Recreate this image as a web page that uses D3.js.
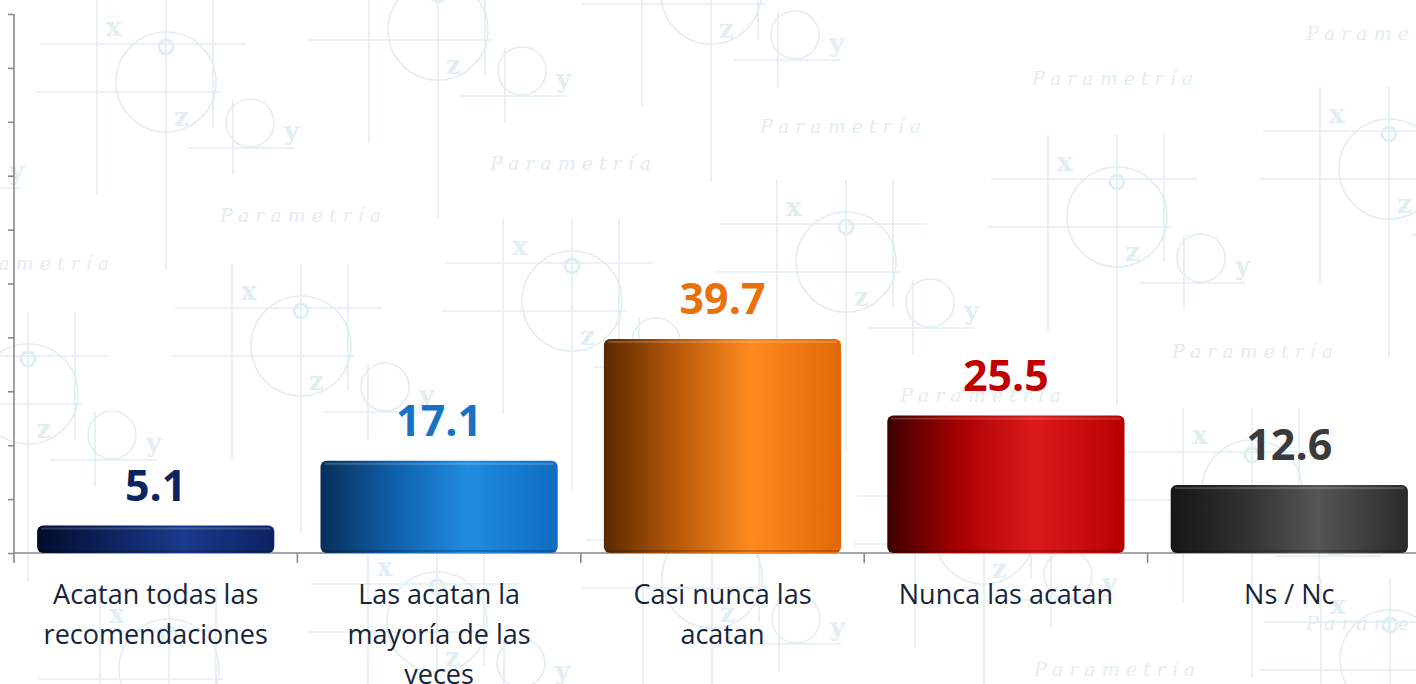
<!DOCTYPE html>
<html>
<head>
<meta charset="utf-8">
<script src="https://cdn.jsdelivr.net/npm/d3@7"></script>
<style>
  html, body { margin: 0; padding: 0; background: #ffffff; }
  svg { display: block; }
</style>
</head>
<body>
<div id="chart"></div>
<script>
// datos del gráfico
const categories = ["Acatan todas las recomendaciones", "Las acatan la mayoría de las veces", "Casi nunca las acatan", "Nunca las acatan", "Ns / Nc"];
const labelLines = [["Acatan todas las", "recomendaciones"], ["Las acatan la", "mayoría de las", "veces"], ["Casi nunca las", "acatan"], ["Nunca las acatan"], ["Ns / Nc"]];
const values = [5.1, 17.1, 39.7, 25.5, 12.6];
const yTicks = [0, 10, 20, 30, 40, 50, 60, 70, 80, 90, 100];

// colores: etiqueta y degradado de cada barra
const labelColors = ["#0c2461", "#1873c4", "#e8710a", "#c00000", "#3b3b3b"];
const barStops = [
  ["#020b2c", "#0d235e", "#1a3a8c", "#0c2262"],
  ["#082e5a", "#0f5ea8", "#1f8ce0", "#106cc0"],
  ["#5a2800", "#b55808", "#ff8a1f", "#e06808"],
  ["#3c0000", "#a80000", "#dc1a1a", "#b80000"],
  ["#161616", "#303030", "#555555", "#2a2a2a"]
];

const W = 1416, H = 684;
const svg = d3.select("#chart").append("svg").attr("width", W).attr("height", H);

// ---- marca de agua de fondo ----
const wm = "#e2eef0";
const motifs = [[166, 82], [438, 30], [711, -6], [1389, 169], [1117, 217], [846, 262], [572, 301],
  [301, 346], [28, 394], [437, 622], [984, 534], [169, 669], [712, 578], [1252, 490], [-109, 122], [1390, 660]];
const words = [[220, 222], [490, 170], [760, 133], [1032, 85], [1306, 40], [-52, 270], [1172, 358], [900, 402], [1034, 676], [1306, 630]];

const bg = svg.append("g").attr("stroke", wm).attr("fill", "none").attr("stroke-width", 1.6);
motifs.forEach(([cx, cy]) => {
  const g = bg.append("g").attr("transform", `translate(${cx},${cy})`);
  const lines = [[-126, -38, 81, -38], [-130, 10, 54, 10], [-69, -82, -69, 113], [0, -82, 0, 188],
    [47, -82, 47, 45], [22, 66, 129, 66], [67, 18, 67, 93]];
  lines.forEach(l => g.append("line").attr("x1", l[0]).attr("y1", l[1]).attr("x2", l[2]).attr("y2", l[3]));
  g.append("circle").attr("r", 50);
  g.append("circle").attr("cy", -35).attr("r", 7).attr("stroke-width", 3);
  g.append("circle").attr("cx", 84).attr("cy", 41).attr("r", 24);
  [["x", -60, -46], ["z", 8, 44], ["y", 118, 58]].forEach(t => {
    g.append("text").attr("x", t[1]).attr("y", t[2]).text(t[0])
      .attr("fill", wm).attr("stroke", "none")
      .style("font-family", "'DejaVu Serif', serif").style("font-weight", "bold").style("font-size", "26px");
  });
});
words.forEach(([x, y]) => {
  bg.append("text").attr("x", x).attr("y", y).text("Parametría")
    .attr("fill", wm).attr("stroke", "none")
    .style("font-family", "'DejaVu Serif', serif").style("font-style", "italic")
    .style("font-size", "19px").style("letter-spacing", "6px");
});

// ---- escalas ----
const x = d3.scaleBand().domain(categories).range([14, 14 + 5 * 283.4]).paddingInner(0.163).paddingOuter(0.0815);
const y = d3.scaleLinear().domain([0, 100]).range([553, 14]);

// degradados
const defs = svg.append("defs");
barStops.forEach((stops, i) => {
  const gr = defs.append("linearGradient").attr("id", "bar" + i).attr("x1", 0).attr("x2", 1).attr("y1", 0).attr("y2", 0);
  [0, 0.3, 0.62, 1].forEach((o, j) => gr.append("stop").attr("offset", o).attr("stop-color", stops[j]));
});

// ---- ejes ----
const axisColor = "#8a8a8a";
const yAxis = svg.append("g").attr("transform", "translate(14,0)")
  .call(d3.axisLeft(y).tickValues(yTicks).tickSize(6).tickFormat(""));
yAxis.select(".domain").attr("d", `M0,${y(100)}V563`);
yAxis.selectAll("line, path").attr("stroke", axisColor).attr("stroke-width", 1.6);

const bounds = d3.range(categories.length).map(i => 14 + (i + 1) * x.step());
const xAxis = svg.append("g");
xAxis.append("line").attr("x1", 14).attr("x2", W).attr("y1", y(0)).attr("y2", y(0))
  .attr("stroke", axisColor).attr("stroke-width", 1.6);
xAxis.selectAll(".tk").data(bounds).enter().append("line")
  .attr("x1", d => d).attr("x2", d => d).attr("y1", y(0)).attr("y2", y(0) + 10)
  .attr("stroke", axisColor).attr("stroke-width", 1.6);

// ---- barras ----
const bars = svg.append("g").selectAll("g").data(values).enter().append("g");
bars.append("rect")
  .attr("x", (d, i) => x(categories[i]))
  .attr("y", d => y(d))
  .attr("width", x.bandwidth())
  .attr("height", d => y(0) - y(d))
  .attr("rx", 6)
  .attr("fill", (d, i) => `url(#bar${i})`);
// brillo superior
bars.append("rect")
  .attr("x", (d, i) => x(categories[i]) + 4)
  .attr("y", d => y(d) + 2)
  .attr("width", x.bandwidth() - 8)
  .attr("height", 2)
  .attr("fill", "#ffffff").attr("opacity", 0.18);
// sombra inferior
bars.append("rect")
  .attr("x", (d, i) => x(categories[i]) + 2)
  .attr("y", y(0) - 3)
  .attr("width", x.bandwidth() - 4)
  .attr("height", 2)
  .attr("fill", "#000000").attr("opacity", 0.2);

// valores
svg.append("g").selectAll("text").data(values).enter().append("text")
  .attr("x", (d, i) => x(categories[i]) + x.bandwidth() / 2)
  .attr("y", d => y(d) - 25)
  .attr("text-anchor", "middle")
  .attr("fill", (d, i) => labelColors[i])
  .style("font-family", "'Open Sans', sans-serif")
  .style("font-weight", "bold")
  .style("font-size", "43px")
  .text(d => d.toFixed(1));

// etiquetas de categoría
const cat = svg.append("g").selectAll("text").data(categories).enter().append("text")
  .attr("text-anchor", "middle")
  .attr("fill", "#16253b")
  .style("font-family", "'Open Sans', sans-serif")
  .style("font-size", "27px");
cat.each(function (d, i) {
  const t = d3.select(this);
  labelLines[i].forEach((ln, j) => {
    t.append("tspan").attr("x", x(d) + x.bandwidth() / 2).attr("y", 604 + j * 40).text(ln);
  });
});
</script>
</body>
</html>
